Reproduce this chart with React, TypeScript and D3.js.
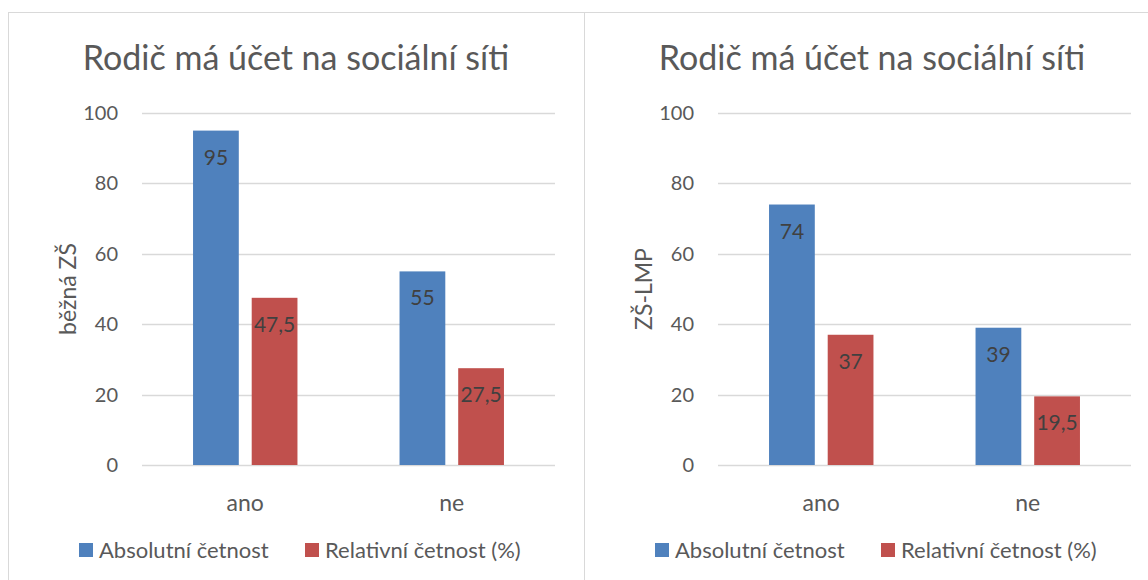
import * as d3 from "d3";

const categories = ["ano", "ne"];
const seriesNames = ["Absolutní četnost", "Relativní četnost (%)"];
const bezneAbs = [95, 55];
const bezneRel = [47.5, 27.5];
const lmpAbs = [74, 39];
const lmpRel = [37, 19.5];
const yTicks = [0, 20, 40, 60, 80, 100];
const title = "Rodič má účet na sociální síti";

const colors = ["#4F81BD", "#C0504D"];
const font = "Lato, 'Open Sans', sans-serif";
const textColor = "#595959";

const fmt = (v: number) => String(v).replace(".", ",");

const Panel = ({
  left,
  yLabel,
  series,
}: {
  left: number;
  yLabel: string;
  series: number[][];
}) => {
  const plotLeft = left + 134;
  const plotRight = plotLeft + 413;
  const y = d3.scaleLinear().domain([0, 100]).range([465, 113]);
  const x = d3.scaleBand().domain(categories).range([plotLeft, plotRight]);
  const inner = d3
    .scaleBand()
    .domain(seriesNames)
    .range([0, x.bandwidth()])
    .paddingInner(0.22)
    .paddingOuter(0.87);
  const cx = left + 288;

  return (
    <g fontFamily={font}>
      <rect x={left + 0.5} y={12.5} width={576} height={600} fill="#fff" stroke="#D9D9D9" />
      <text x={cx} y={70} textAnchor="middle" fontSize={34} fill={textColor}>
        {title}
      </text>
      {yTicks.map((t) => (
        <g key={t}>
          <line
            x1={plotLeft}
            x2={plotRight}
            y1={Math.round(y(t)) + 0.5}
            y2={Math.round(y(t)) + 0.5}
            stroke="#D9D9D9"
            strokeWidth={t === 0 ? 1.5 : 1.3}
          />
          <text
            x={plotLeft - 24}
            y={y(t)}
            dy="0.35em"
            textAnchor="end"
            fontSize={20}
            fill={textColor}
          >
            {t}
          </text>
        </g>
      ))}
      <text
        transform={`translate(${left + 60},${(y(0) + y(100)) / 2}) rotate(-90)`}
        textAnchor="middle"
        dy="0.35em"
        fontSize={23}
        fill={textColor}
      >
        {yLabel}
      </text>
      {categories.map((c, ci) => (
        <g key={c}>
          {seriesNames.map((s, si) => {
            const v = series[si][ci];
            const bx = (x(c) ?? 0) + (inner(s) ?? 0);
            return (
              <g key={s}>
                <rect
                  x={bx}
                  y={y(v)}
                  width={inner.bandwidth()}
                  height={y(0) - y(v)}
                  fill={colors[si]}
                />
                <text
                  x={bx + inner.bandwidth() / 2}
                  y={y(v) + 34}
                  textAnchor="middle"
                  fontSize={21}
                  fill="#404040"
                >
                  {fmt(v)}
                </text>
              </g>
            );
          })}
          <text
            x={(x(c) ?? 0) + x.bandwidth() / 2}
            y={511}
            textAnchor="middle"
            fontSize={23}
            fill={textColor}
          >
            {c}
          </text>
        </g>
      ))}
      {seriesNames.map((s, si) => {
        const lx = left + (si === 0 ? 71 : 297);
        return (
          <g key={s}>
            <rect x={lx} y={543} width={14} height={14} fill={colors[si]} />
            <text x={lx + 20} y={558} fontSize={22} fill={textColor}>
              {s}
            </text>
          </g>
        );
      })}
    </g>
  );
};

export default function App() {
  return (
    <svg
      width={1148}
      height={580}
      style={{ position: "absolute", left: 0, top: 0, display: "block" }}
    >
      <rect width={1148} height={580} fill="#fff" />
      <Panel left={8} yLabel="běžná ZŠ" series={[bezneAbs, bezneRel]} />
      <Panel left={584} yLabel="ZŠ-LMP" series={[lmpAbs, lmpRel]} />
    </svg>
  );
}
